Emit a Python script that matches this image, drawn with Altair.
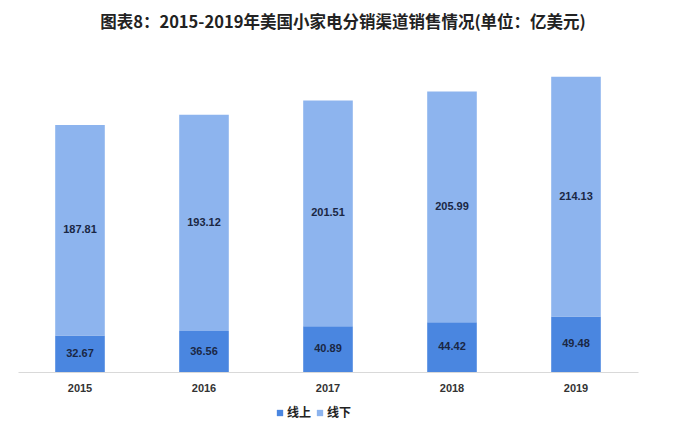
import altair as alt
import pandas as pd

years = ["2015", "2016", "2017", "2018", "2019"]
online = [32.67, 36.56, 40.89, 44.42, 49.48]
offline = [187.81, 193.12, 201.51, 205.99, 214.13]
series = ["线上", "线下"]
colors = ["#4a86e0", "#8db4ee"]

rows = []
for i, y in enumerate(years):
    rows.append({"year": y, "series": series[0], "value": online[i], "start": 0.0})
    rows.append({"year": y, "series": series[1], "value": offline[i], "start": online[i]})
df = pd.DataFrame(rows)
df["end"] = df["start"] + df["value"]
df["mid"] = df["start"] + df["value"] / 2
df["label"] = df["value"].map(lambda v: f"{v:.2f}")

xenc = alt.X("year:N", sort=years, title=None,
             scale=alt.Scale(paddingInner=0.6, paddingOuter=0.3),
             axis=alt.Axis(labelAngle=0, labelFont="Liberation Sans", labelFontWeight="bold",
                           labelFontSize=11, labelColor="#333333", labelPadding=10,
                           ticks=False, domainColor="#d9d9d9", domainWidth=1))
yscale = alt.Scale(domain=[0, 300], nice=False)

bars = alt.Chart(df).mark_bar().encode(
    x=xenc,
    y=alt.Y("start:Q", scale=yscale, axis=None),
    y2="end:Q",
    color=alt.Color("series:N", sort=series,
                    scale=alt.Scale(domain=series, range=colors),
                    legend=alt.Legend(title=None, orient="none", legendX=256, legendY=371,
                                      direction="horizontal", symbolType="square",
                                      symbolSize=40, symbolStrokeWidth=0,
                                      labelFont="Noto Sans CJK SC", labelFontWeight="bold",
                                      labelFontSize=12, labelColor="#222222",
                                      columnPadding=2, labelOffset=1)),
)

text = alt.Chart(df).mark_text(font="Liberation Sans", fontWeight="bold", fontSize=11,
                               color="#1a2744").encode(
    x=alt.X("year:N", sort=years),
    y=alt.Y("mid:Q", scale=yscale),
    text="label:N",
)

chart = (bars + text).properties(
    width=620, height=336,
    background="white",
    padding={"left": 18, "top": 36, "right": 62, "bottom": 70},
    autosize=alt.AutoSizeParams(type="none"),
    title=alt.TitleParams("图表8：2015-2019年美国小家电分销渠道销售情况(单位：亿美元)",
                          font="Noto Sans CJK SC", fontSize=16.5, fontWeight="bold",
                          color="#222222", anchor="middle", dx=15, offset=5),
).configure_view(strokeWidth=0)

chart.save("out.html", embed_options={"renderer": "svg", "actions": False})
